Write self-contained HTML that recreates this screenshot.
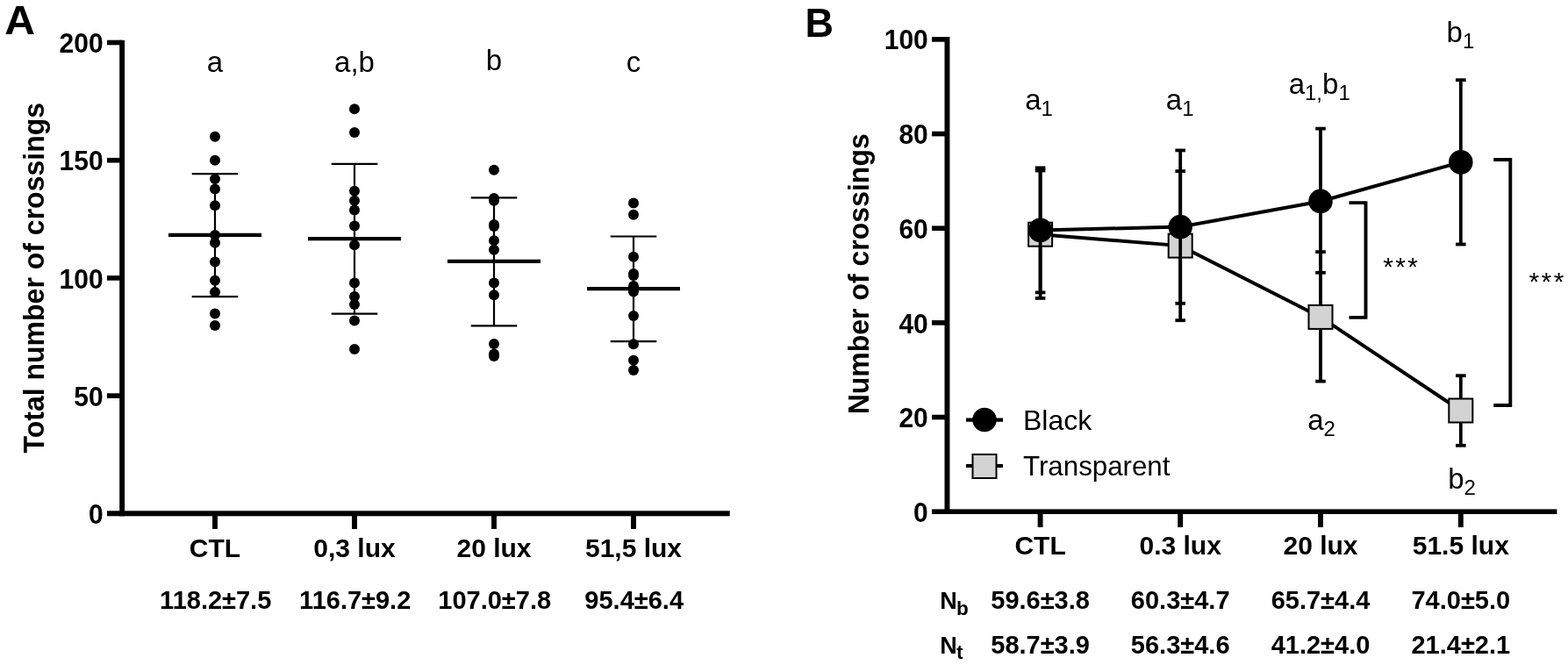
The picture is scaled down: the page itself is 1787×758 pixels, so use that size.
<!DOCTYPE html><html><head><meta charset="utf-8"><title>Figure</title><style>
html,body{margin:0;padding:0;background:#fff;width:1787px;height:758px;overflow:hidden}
svg{display:block}
text{font-family:"Liberation Sans", Arial, Helvetica, sans-serif;fill:#000}
.b{font-weight:bold}
</style></head><body>
<svg width="1787" height="758" viewBox="0 0 1787 758">
<rect x="0" y="0" width="1787" height="758" fill="#fff"/>
<text class="b" font-size="45" transform="translate(5.20,38.80) scale(1.0700,1.0400)">A</text>
<rect x="136.2" y="45.8" width="5.9" height="542.5" fill="#000"/>
<rect x="122" y="582.3" width="709.7" height="6" fill="#000"/>
<rect x="122" y="45.70" width="17" height="5.6" fill="#000"/>
<rect x="122" y="179.90" width="17" height="5.6" fill="#000"/>
<rect x="122" y="314.10" width="17" height="5.6" fill="#000"/>
<rect x="122" y="448.30" width="17" height="5.6" fill="#000"/>
<rect x="242.05" y="586" width="5.9" height="17" fill="#000"/>
<rect x="401.05" y="586" width="5.9" height="17" fill="#000"/>
<rect x="560.05" y="586" width="5.9" height="17" fill="#000"/>
<rect x="719.05" y="586" width="5.9" height="17" fill="#000"/>
<text class="b" font-size="30" text-anchor="end" transform="translate(117.60,60.20) scale(1.0000,1.0700)">200</text>
<text class="b" font-size="30" text-anchor="end" transform="translate(117.60,194.40) scale(1.0000,1.0700)">150</text>
<text class="b" font-size="30" text-anchor="end" transform="translate(117.60,328.60) scale(1.0000,1.0700)">100</text>
<text class="b" font-size="30" text-anchor="end" transform="translate(117.60,462.80) scale(1.0000,1.0700)">50</text>
<text class="b" font-size="30" text-anchor="end" transform="translate(117.60,597.00) scale(1.0000,1.0700)">0</text>
<text class="b" font-size="33" text-anchor="middle" transform="translate(49.90,316.70) rotate(-90) scale(0.9700,1.0000)">Total number of crossings</text>
<text class="b" x="245.0" y="634.8" font-size="30" text-anchor="middle">CTL</text>
<text class="b" x="404.0" y="634.8" font-size="30" text-anchor="middle">0,3 lux</text>
<text class="b" x="563.0" y="634.8" font-size="30" text-anchor="middle">20 lux</text>
<text class="b" x="722.0" y="634.8" font-size="30" text-anchor="middle">51,5 lux</text>
<text class="b" font-size="29" text-anchor="middle" transform="translate(245.70,694.30)">118.2±7.5</text>
<text class="b" font-size="29" text-anchor="middle" transform="translate(404.70,694.30)">116.7±9.2</text>
<text class="b" font-size="29" text-anchor="middle" transform="translate(563.70,694.30)">107.0±7.8</text>
<text class="b" font-size="29" text-anchor="middle" transform="translate(722.70,694.30)">95.4±6.4</text>
<text x="245.0" y="82.3" font-size="33" text-anchor="middle">a</text>
<text x="404.0" y="82.3" font-size="33" text-anchor="middle">a,b</text>
<text x="563.0" y="79.5" font-size="33" text-anchor="middle">b</text>
<text x="722.0" y="82.3" font-size="33" text-anchor="middle">c</text>
<line x1="245.0" y1="198.1" x2="245.0" y2="338.2" stroke="#000" stroke-width="2.2"/>
<line x1="218.7" y1="198.1" x2="271.3" y2="198.1" stroke="#000" stroke-width="2.2"/>
<line x1="218.7" y1="338.2" x2="271.3" y2="338.2" stroke="#000" stroke-width="2.2"/>
<line x1="192.0" y1="267.9" x2="298.0" y2="267.9" stroke="#000" stroke-width="4.2"/>
<circle cx="245.0" cy="155.8" r="6" fill="#000"/>
<circle cx="245.0" cy="182.7" r="6" fill="#000"/>
<circle cx="245.0" cy="204.1" r="6" fill="#000"/>
<circle cx="245.0" cy="215.5" r="6" fill="#000"/>
<circle cx="245.0" cy="234.2" r="6" fill="#000"/>
<circle cx="245.0" cy="267.9" r="6" fill="#000"/>
<circle cx="245.0" cy="276.8" r="6" fill="#000"/>
<circle cx="245.0" cy="298.4" r="6" fill="#000"/>
<circle cx="245.0" cy="319.8" r="6" fill="#000"/>
<circle cx="245.0" cy="333.1" r="6" fill="#000"/>
<circle cx="245.0" cy="357.4" r="6" fill="#000"/>
<circle cx="245.0" cy="370.9" r="6" fill="#000"/>
<line x1="404.0" y1="186.8" x2="404.0" y2="357.7" stroke="#000" stroke-width="2.2"/>
<line x1="377.7" y1="186.8" x2="430.3" y2="186.8" stroke="#000" stroke-width="2.2"/>
<line x1="377.7" y1="357.7" x2="430.3" y2="357.7" stroke="#000" stroke-width="2.2"/>
<line x1="351.0" y1="272.1" x2="457.0" y2="272.1" stroke="#000" stroke-width="4.2"/>
<circle cx="404.0" cy="124.2" r="6" fill="#000"/>
<circle cx="404.0" cy="151.0" r="6" fill="#000"/>
<circle cx="404.0" cy="217.8" r="6" fill="#000"/>
<circle cx="404.0" cy="228.7" r="6" fill="#000"/>
<circle cx="404.0" cy="239.6" r="6" fill="#000"/>
<circle cx="404.0" cy="257.5" r="6" fill="#000"/>
<circle cx="404.0" cy="279.2" r="6" fill="#000"/>
<circle cx="404.0" cy="322.5" r="6" fill="#000"/>
<circle cx="404.0" cy="337.9" r="6" fill="#000"/>
<circle cx="404.0" cy="347.1" r="6" fill="#000"/>
<circle cx="404.0" cy="365.5" r="6" fill="#000"/>
<circle cx="404.0" cy="398.0" r="6" fill="#000"/>
<line x1="563.0" y1="225.4" x2="563.0" y2="371.4" stroke="#000" stroke-width="2.2"/>
<line x1="536.7" y1="225.4" x2="589.3" y2="225.4" stroke="#000" stroke-width="2.2"/>
<line x1="536.7" y1="371.4" x2="589.3" y2="371.4" stroke="#000" stroke-width="2.2"/>
<line x1="510.0" y1="297.9" x2="616.0" y2="297.9" stroke="#000" stroke-width="4.2"/>
<circle cx="563.0" cy="193.8" r="6" fill="#000"/>
<circle cx="563.0" cy="226.1" r="6" fill="#000"/>
<circle cx="563.0" cy="228.7" r="6" fill="#000"/>
<circle cx="563.0" cy="256.0" r="6" fill="#000"/>
<circle cx="563.0" cy="258.0" r="6" fill="#000"/>
<circle cx="563.0" cy="274.2" r="6" fill="#000"/>
<circle cx="563.0" cy="284.8" r="6" fill="#000"/>
<circle cx="563.0" cy="322.5" r="6" fill="#000"/>
<circle cx="563.0" cy="336.3" r="6" fill="#000"/>
<circle cx="563.0" cy="392.1" r="6" fill="#000"/>
<circle cx="563.0" cy="403.5" r="6" fill="#000"/>
<circle cx="563.0" cy="406.0" r="6" fill="#000"/>
<line x1="722.0" y1="269.5" x2="722.0" y2="389.2" stroke="#000" stroke-width="2.2"/>
<line x1="695.7" y1="269.5" x2="748.3" y2="269.5" stroke="#000" stroke-width="2.2"/>
<line x1="695.7" y1="389.2" x2="748.3" y2="389.2" stroke="#000" stroke-width="2.2"/>
<line x1="669.0" y1="329.2" x2="775.0" y2="329.2" stroke="#000" stroke-width="4.2"/>
<circle cx="722.0" cy="231.4" r="6" fill="#000"/>
<circle cx="722.0" cy="244.8" r="6" fill="#000"/>
<circle cx="722.0" cy="292.8" r="6" fill="#000"/>
<circle cx="722.0" cy="312.0" r="6" fill="#000"/>
<circle cx="722.0" cy="314.0" r="6" fill="#000"/>
<circle cx="722.0" cy="326.0" r="6" fill="#000"/>
<circle cx="722.0" cy="329.0" r="6" fill="#000"/>
<circle cx="722.0" cy="332.5" r="6" fill="#000"/>
<circle cx="722.0" cy="360.0" r="6" fill="#000"/>
<circle cx="722.0" cy="392.3" r="6" fill="#000"/>
<circle cx="722.0" cy="410.8" r="6" fill="#000"/>
<circle cx="722.0" cy="421.9" r="6" fill="#000"/>
<text class="b" font-size="45" transform="translate(917.50,41.60) scale(1.0000,1.0350)">B</text>
<rect x="1076.5" y="42" width="5.9" height="543.9" fill="#000"/>
<rect x="1062" y="580.4" width="712.4" height="5.6" fill="#000"/>
<rect x="1062" y="42.10" width="17" height="5.6" fill="#000"/>
<rect x="1062" y="149.76" width="17" height="5.6" fill="#000"/>
<rect x="1062" y="257.42" width="17" height="5.6" fill="#000"/>
<rect x="1062" y="365.08" width="17" height="5.6" fill="#000"/>
<rect x="1062" y="472.74" width="17" height="5.6" fill="#000"/>
<rect x="1182.65" y="584" width="5.9" height="17" fill="#000"/>
<rect x="1342.25" y="584" width="5.9" height="17" fill="#000"/>
<rect x="1502.05" y="584" width="5.9" height="17" fill="#000"/>
<rect x="1661.85" y="584" width="5.9" height="17" fill="#000"/>
<text class="b" font-size="30" text-anchor="end" transform="translate(1057.80,55.60) scale(1.0000,1.0700)">100</text>
<text class="b" font-size="30" text-anchor="end" transform="translate(1057.80,164.26) scale(1.0000,1.0700)">80</text>
<text class="b" font-size="30" text-anchor="end" transform="translate(1057.80,271.92) scale(1.0000,1.0700)">60</text>
<text class="b" font-size="30" text-anchor="end" transform="translate(1057.80,379.58) scale(1.0000,1.0700)">40</text>
<text class="b" font-size="30" text-anchor="end" transform="translate(1057.80,487.24) scale(1.0000,1.0700)">20</text>
<text class="b" font-size="30" text-anchor="end" transform="translate(1057.80,594.90) scale(1.0000,1.0700)">0</text>
<text class="b" font-size="33" text-anchor="middle" transform="translate(989.90,312.30) rotate(-90) scale(0.9700,1.0000)">Number of crossings</text>
<text class="b" x="1185.6" y="632.3" font-size="30" text-anchor="middle">CTL</text>
<text class="b" x="1345.2" y="632.3" font-size="30" text-anchor="middle">0.3 lux</text>
<text class="b" x="1505.0" y="632.3" font-size="30" text-anchor="middle">20 lux</text>
<text class="b" x="1664.8" y="632.3" font-size="30" text-anchor="middle">51.5 lux</text>
<text class="b" x="1071.2" y="694.2" font-size="27">N<tspan font-size="22.5" dy="6.5" dx="-0.8">b</tspan></text>
<text class="b" x="1071.2" y="744.6" font-size="27">N<tspan font-size="22.5" dy="6.5" dx="-0.8">t</tspan></text>
<text class="b" font-size="29" text-anchor="middle" transform="translate(1185.60,694.20)">59.6±3.8</text>
<text class="b" font-size="29" text-anchor="middle" transform="translate(1345.20,694.20)">60.3±4.7</text>
<text class="b" font-size="29" text-anchor="middle" transform="translate(1505.00,694.20)">65.7±4.4</text>
<text class="b" font-size="29" text-anchor="middle" transform="translate(1664.80,694.20)">74.0±5.0</text>
<text class="b" font-size="29" text-anchor="middle" transform="translate(1185.60,744.60)">58.7±3.9</text>
<text class="b" font-size="29" text-anchor="middle" transform="translate(1345.20,744.60)">56.3±4.6</text>
<text class="b" font-size="29" text-anchor="middle" transform="translate(1505.00,744.60)">41.2±4.0</text>
<text class="b" font-size="29" text-anchor="middle" transform="translate(1664.80,744.60)">21.4±2.1</text>
<line x1="1185.6" y1="194.5" x2="1185.6" y2="339.9" stroke="#000" stroke-width="3.8"/><line x1="1179.8" y1="194.5" x2="1191.4" y2="194.5" stroke="#000" stroke-width="3.8"/><line x1="1179.8" y1="339.9" x2="1191.4" y2="339.9" stroke="#000" stroke-width="3.8"/>
<line x1="1345.2" y1="195.1" x2="1345.2" y2="365.2" stroke="#000" stroke-width="3.8"/><line x1="1339.4" y1="195.1" x2="1351.0" y2="195.1" stroke="#000" stroke-width="3.8"/><line x1="1339.4" y1="365.2" x2="1351.0" y2="365.2" stroke="#000" stroke-width="3.8"/>
<line x1="1505.0" y1="287.1" x2="1505.0" y2="434.6" stroke="#000" stroke-width="3.8"/><line x1="1499.2" y1="287.1" x2="1510.8" y2="287.1" stroke="#000" stroke-width="3.8"/><line x1="1499.2" y1="434.6" x2="1510.8" y2="434.6" stroke="#000" stroke-width="3.8"/>
<line x1="1664.8" y1="428.2" x2="1664.8" y2="507.8" stroke="#000" stroke-width="3.8"/><line x1="1659.0" y1="428.2" x2="1670.6" y2="428.2" stroke="#000" stroke-width="3.8"/><line x1="1659.0" y1="507.8" x2="1670.6" y2="507.8" stroke="#000" stroke-width="3.8"/>
<polyline fill="none" stroke="#000" stroke-width="4.0" points="1185.6,267.2 1345.2,280.1 1505.0,361.4 1664.8,468.0"/>
<rect x="1172.1" y="253.7" width="27" height="27" fill="#d3d3d3" stroke="#000" stroke-width="2"/>
<rect x="1331.7" y="266.6" width="27" height="27" fill="#d3d3d3" stroke="#000" stroke-width="2"/>
<rect x="1491.5" y="347.9" width="27" height="27" fill="#d3d3d3" stroke="#000" stroke-width="2"/>
<rect x="1651.3" y="454.5" width="27" height="27" fill="#d3d3d3" stroke="#000" stroke-width="2"/>
<line x1="1185.6" y1="191.3" x2="1185.6" y2="333.4" stroke="#000" stroke-width="3.8"/><line x1="1179.8" y1="191.3" x2="1191.4" y2="191.3" stroke="#000" stroke-width="3.8"/><line x1="1179.8" y1="333.4" x2="1191.4" y2="333.4" stroke="#000" stroke-width="3.8"/>
<line x1="1345.2" y1="171.4" x2="1345.2" y2="345.8" stroke="#000" stroke-width="3.8"/><line x1="1339.4" y1="171.4" x2="1351.0" y2="171.4" stroke="#000" stroke-width="3.8"/><line x1="1339.4" y1="345.8" x2="1351.0" y2="345.8" stroke="#000" stroke-width="3.8"/>
<line x1="1505.0" y1="146.6" x2="1505.0" y2="310.8" stroke="#000" stroke-width="3.8"/><line x1="1499.2" y1="146.6" x2="1510.8" y2="146.6" stroke="#000" stroke-width="3.8"/><line x1="1499.2" y1="310.8" x2="1510.8" y2="310.8" stroke="#000" stroke-width="3.8"/>
<line x1="1664.8" y1="91.2" x2="1664.8" y2="278.5" stroke="#000" stroke-width="3.8"/><line x1="1659.0" y1="91.2" x2="1670.6" y2="91.2" stroke="#000" stroke-width="3.8"/><line x1="1659.0" y1="278.5" x2="1670.6" y2="278.5" stroke="#000" stroke-width="3.8"/>
<polyline fill="none" stroke="#000" stroke-width="4.0" points="1185.6,262.4 1345.2,258.6 1505.0,229.5 1664.8,184.9"/>
<ellipse cx="1185.6" cy="262.4" rx="13.75" ry="13.95" fill="#000"/>
<ellipse cx="1345.2" cy="258.6" rx="13.75" ry="13.95" fill="#000"/>
<ellipse cx="1505.0" cy="229.5" rx="13.75" ry="13.95" fill="#000"/>
<ellipse cx="1664.8" cy="184.9" rx="13.75" ry="13.95" fill="#000"/>
<line x1="1101" y1="478.7" x2="1143" y2="478.7" stroke="#000" stroke-width="4.2"/>
<circle cx="1122" cy="478.5" r="13.7" fill="#000"/>
<line x1="1101" y1="531" x2="1143" y2="531" stroke="#000" stroke-width="4.2"/>
<rect x="1108.5" y="518" width="27" height="27" fill="#d3d3d3" stroke="#000" stroke-width="2"/>
<text x="1166" y="489.6" font-size="32">Black</text>
<text font-size="32" transform="translate(1166.00,542.00) scale(0.9780,1.0000)">Transparent</text>
<path d="M1702.2,182 H1721.3 V462 H1702.2" fill="none" stroke="#000" stroke-width="3.9"/>
<path d="M1537.5,231.1 H1556.5 V361.9 H1537.5" fill="none" stroke="#000" stroke-width="3.9"/>
<text x="1742.5" y="330.7" font-size="30" letter-spacing="2.4">***</text>
<text x="1576.2" y="313.8" font-size="30" letter-spacing="2.4">***</text>
<text x="1184.0" y="125.0" font-size="33" text-anchor="middle"><tspan dy="0">a</tspan><tspan font-size="24" dy="7">1</tspan></text>
<text x="1344.7" y="125.0" font-size="33" text-anchor="middle"><tspan dy="0">a</tspan><tspan font-size="24" dy="7">1</tspan></text>
<text x="1503.7" y="107.1" font-size="33" text-anchor="middle"><tspan dy="0">a</tspan><tspan font-size="24" dy="7">1,</tspan><tspan dy="-7">b</tspan><tspan font-size="24" dy="7">1</tspan></text>
<text x="1664.4" y="47.6" font-size="33" text-anchor="middle"><tspan dy="0">b</tspan><tspan font-size="24" dy="7">1</tspan></text>
<text x="1506.0" y="490.0" font-size="33" text-anchor="middle"><tspan dy="0">a</tspan><tspan font-size="24" dy="7">2</tspan></text>
<text x="1666.0" y="556.6" font-size="33" text-anchor="middle"><tspan dy="0">b</tspan><tspan font-size="24" dy="7">2</tspan></text>
</svg></body></html>
